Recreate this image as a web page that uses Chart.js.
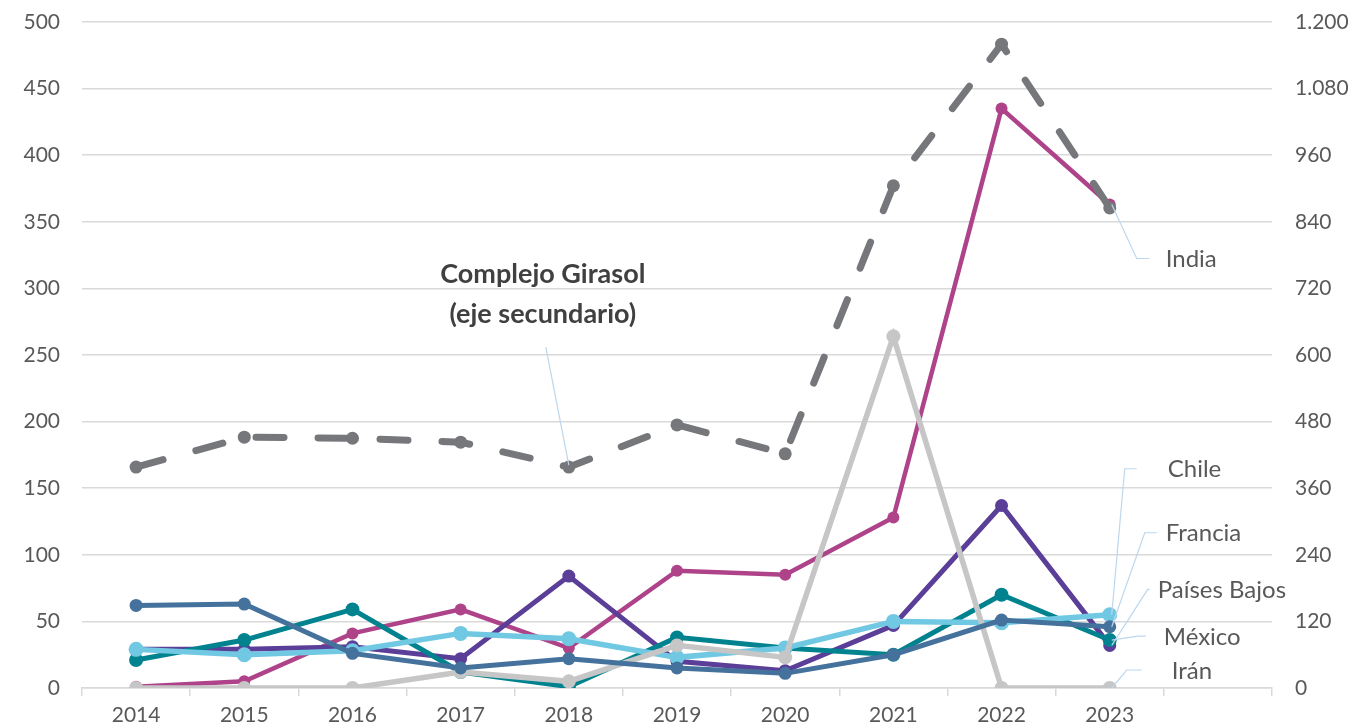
<!DOCTYPE html>
<html>
<head>
<meta charset="utf-8">
<script src="https://cdn.jsdelivr.net/npm/chart.js@4/dist/chart.umd.min.js"></script>
<style>
html,body{margin:0;padding:0;background:#fff;}
#wrap{width:1354px;height:728px;position:relative;}
</style>
</head>
<body>
<div id="wrap"><canvas id="c" width="1354" height="728"></canvas></div>
<script>
const years = ['2014','2015','2016','2017','2018','2019','2020','2021','2022','2023',''];
const girasol = [398, 452, 450, 443, 398, 474, 422, 905, 1160, 865];
const india = [1, 5, 41, 59, 30, 88, 85, 128, 435, 363];
const chile = [29, 25, 28, 41, 37, 23, 30, 50, 49, 55];
const francia = [62, 63, 26, 15, 22, 15, 11, 25, 51, 46];
const paisesBajos = [29, 29, 31, 22, 84, 20, 13, 47, 137, 32];
const mexico = [21, 36, 59, 12, 1, 38, 30, 25, 70, 36];
const iran = [0, 0, 0, 12, 5, 32, 23, 264, 0, 0];
const leftTicks = [0, 50, 100, 150, 200, 250, 300, 350, 400, 450, 500];
const rightTicks = [0, 120, 240, 360, 480, 600, 720, 840, 960, 1080, 1200];

const FONT = 'Lato';
const TXT = '#595959';
const LEADER = '#BDD7EE';

function fmt(v){ return String(v).replace(/\B(?=(\d{3})+(?!\d))/g, '.'); }

function ds(label, data, color, width, radius, axis){
  return {label, data, borderColor: color, backgroundColor: color, pointBackgroundColor: color,
    pointBorderColor: color, borderWidth: width, pointRadius: radius, pointHoverRadius: radius,
    pointBorderWidth: 0, tension: 0, yAxisID: axis || 'y', fill: false};
}

const gir = ds('Complejo Girasol', girasol, '#76777A', 7, 6.5, 'y1');
gir.borderDash = [28, 34];
gir.borderCapStyle = 'round';

const datasets = [
  gir,
  ds('Francia', francia, '#44729C', 5, 6.5),
  ds('Irán', iran, '#C6C6C6', 5.5, 7),
  ds('Chile', chile, '#70C8E3', 5.5, 7.5),
  ds('México', mexico, '#00838F', 5, 7),
  ds('Países Bajos', paisesBajos, '#5A3E97', 5, 6.5),
  ds('India', india, '#AE4389', 4.5, 6)
];

const seriesLabels = [
  {ds: 'India', text: 'India', elbow: [27, 54], hor: 13, gap: 16},
  {ds: 'Chile', text: 'Chile', elbow: [15, -146], hor: 12, gap: 31},
  {ds: 'Francia', text: 'Francia', elbow: [35, -94], hor: 12, gap: 9},
  {ds: 'Países Bajos', text: 'Países Bajos', elbow: [38, -56], hor: 2, gap: 8},
  {ds: 'México', text: 'México', elbow: [28, -4], hor: 8, gap: 18},
  {ds: 'Irán', text: 'Irán', elbow: [17, -18], hor: 15, gap: 30}
];

const labelPlugin = {
  id: 'labels',
  afterDatasetsDraw(chart){
    const ctx = chart.ctx;
    ctx.save();
    ctx.lineWidth = 1.2;
    ctx.strokeStyle = LEADER;
    ctx.fillStyle = TXT;
    ctx.font = '24px ' + FONT;
    ctx.textBaseline = 'middle';
    ctx.textAlign = 'left';
    seriesLabels.forEach(l => {
      const idx = chart.data.datasets.findIndex(d => d.label === l.ds);
      const meta = chart.getDatasetMeta(idx);
      const pt = meta.data[meta.data.length - 1];
      const ex = pt.x + l.elbow[0], ey = pt.y + l.elbow[1];
      ctx.beginPath();
      ctx.moveTo(pt.x + 2, pt.y);
      ctx.lineTo(ex, ey);
      ctx.lineTo(ex + l.hor, ey);
      ctx.stroke();
      ctx.fillText(l.text, ex + l.hor + l.gap, ey + 1);
    });
    const gm = chart.getDatasetMeta(0);
    const p = gm.data[4];
    ctx.beginPath();
    ctx.moveTo(p.x, p.y - 2);
    ctx.lineTo(p.x - 23, p.y - 120);
    ctx.stroke();
    ctx.font = 'bold 27px ' + FONT;
    ctx.fillStyle = '#404040';
    ctx.textAlign = 'center';
    ctx.fillText('Complejo Girasol', p.x - 26, p.y - 193);
    ctx.fillText('(eje secundario)', p.x - 26, p.y - 153);
    ctx.restore();
  }
};

function fitY(s){ s.width = 82; s.paddingTop = 0; s.paddingBottom = 0; }

new Chart(document.getElementById('c'), {
  type: 'line',
  data: {labels: years, datasets},
  options: {
    responsive: false,
    animation: false,
    events: [],
    layout: {padding: {top: 22, left: 0, right: 0, bottom: 0}},
    plugins: {legend: {display: false}, tooltip: {enabled: false}},
    scales: {
      x: {
        offset: true,
        grid: {offset: true, drawOnChartArea: false, drawTicks: true, tickLength: 8, color: '#D9D9D9', lineWidth: 1.5},
        border: {color: '#D9D9D9', width: 1.5},
        ticks: {color: TXT, font: {family: FONT, size: 21}, padding: 7, maxRotation: 0, autoSkip: false},
        afterFit(s){ s.height = 40; s.paddingLeft = 0; s.paddingRight = 0; }
      },
      y: {
        position: 'left', min: 0, max: 500,
        afterBuildTicks(s){ s.ticks = leftTicks.map(v => ({value: v})); },
        grid: {color: '#D9D9D9', lineWidth: 1.5, drawTicks: false},
        border: {display: false},
        ticks: {color: TXT, font: {family: FONT, size: 21}, padding: 22},
        afterFit: fitY
      },
      y1: {
        position: 'right', min: 0, max: 1200,
        afterBuildTicks(s){ s.ticks = rightTicks.map(v => ({value: v})); },
        grid: {drawOnChartArea: false, drawTicks: false},
        border: {display: false},
        ticks: {color: TXT, font: {family: FONT, size: 21}, padding: 23, callback: v => fmt(v)},
        afterFit: fitY
      }
    }
  },
  plugins: [labelPlugin]
});
</script>
</body>
</html>
